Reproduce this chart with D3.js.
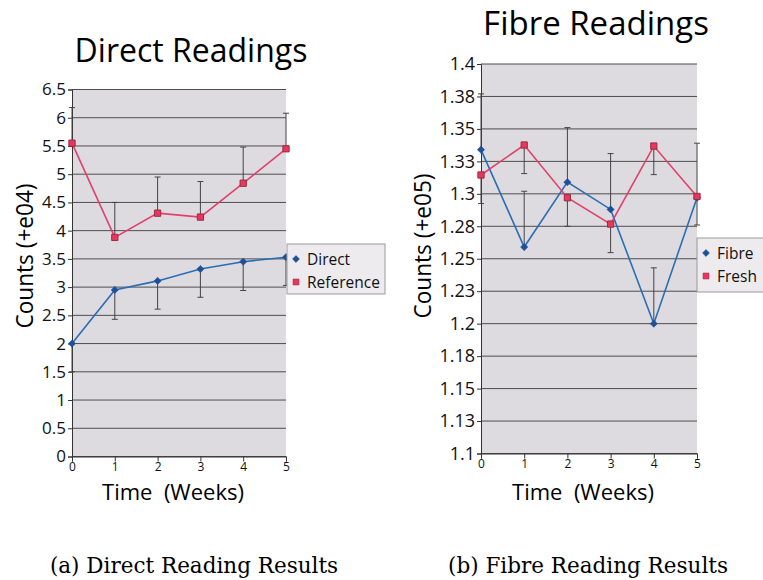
<!DOCTYPE html>
<html><head><meta charset="utf-8">
<script src="https://cdn.jsdelivr.net/npm/d3@7"></script>
<style>body{margin:0;background:#fff}svg{display:block}</style>
</head><body>
<svg id="c" width="763" height="580"></svg>
<script>
// ---- data ----
const weeks = [0, 1, 2, 3, 4, 5];
const directValues = [2.0, 2.95, 3.11, 3.32, 3.45, 3.53];
const directErrLow = [0.5, 0.52, 0.5, 0.5, 0.51, 0.5];
const directErrHigh = [0, 0, 0, 0, 0, 0];
const referenceValues = [5.55, 3.88, 4.31, 4.24, 4.84, 5.45];
const referenceErrLow = [0, 0, 0, 0, 0, 0];
const referenceErrHigh = [0.63, 0.62, 0.64, 0.63, 0.64, 0.63];
const fibreValues = [1.334, 1.259, 1.309, 1.288, 1.200, 1.297];
const fibreErrLow = [0, 0, 0, 0, 0, 0];
const fibreErrHigh = [0.043, 0.043, 0.042, 0.043, 0.043, 0.042];
const freshValues = [1.3145, 1.3376, 1.297, 1.2767, 1.3368, 1.298];
const freshErrLow = [0.022, 0.022, 0.022, 0.022, 0.022, 0.022];
const freshErrHigh = [0, 0, 0, 0, 0, 0];
const leftYTicks = [0, 0.5, 1, 1.5, 2, 2.5, 3, 3.5, 4, 4.5, 5, 5.5, 6, 6.5];
const rightYTicks = [1.1, 1.125, 1.15, 1.175, 1.2, 1.225, 1.25, 1.275, 1.3, 1.325, 1.35, 1.375, 1.4];
const rightYTickLabels = ["1.1", "1.13", "1.15", "1.18", "1.2", "1.23", "1.25", "1.28", "1.3", "1.33", "1.35", "1.38", "1.4"];
const xTickLabels = ["0", "1", "2", "3", "4", "5"];

const BLUE = "#2a6db5", BLUE_M = "#1f4f99", RED = "#e0416b", RED_F = "#e8365e", RED_S = "#9c2a45";
const FONT = "'Open Sans', 'DejaVu Sans', sans-serif";
const svg = d3.select("#c");

function chart(cfg) {
  const g = svg.append("g");
  const x = d3.scaleLinear().domain([0, 5]).range([cfg.x0, cfg.x1]);
  const y = d3.scaleLinear().domain(cfg.yDomain).range([cfg.y0, cfg.y1]);
  g.append("rect").attr("x", cfg.x0).attr("y", cfg.y1).attr("width", cfg.x1 - cfg.x0).attr("height", cfg.y0 - cfg.y1).attr("fill", "#dddbe0");
  // grid
  g.selectAll("line.grid").data(cfg.yTicks).enter().append("line")
    .attr("x1", cfg.x0).attr("x2", cfg.x1).attr("y1", d => y(d)).attr("y2", d => y(d))
    .attr("stroke", "#4d4d4d").attr("stroke-width", 1);
  // y axis
  const ya = d3.axisLeft(y).tickValues(cfg.yTicks).tickSize(4).tickPadding(2)
    .tickFormat((d, i) => cfg.yLabels[i]);
  const yg = g.append("g").attr("transform", `translate(${cfg.x0},0)`).call(ya);
  yg.select(".domain").attr("stroke", "#333");
  yg.selectAll(".tick line").attr("stroke", "#333");
  yg.selectAll("text").attr("font-family", FONT).attr("font-size", cfg.yFont).attr("fill", "#111");
  // x axis
  const xa = d3.axisBottom(x).tickValues(weeks).tickSize(5).tickPadding(1).tickFormat((d, i) => xTickLabels[i]);
  const xg = g.append("g").attr("transform", `translate(0,${cfg.y0})`).call(xa);
  xg.select(".domain").attr("stroke", "#333");
  xg.selectAll(".tick line").attr("stroke", "#333");
  xg.selectAll("text").attr("font-family", FONT).attr("font-size", 12).attr("fill", "#111");
  // error bars
  cfg.series.forEach(s => {
    weeks.forEach((w, i) => {
      const lo = s.values[i] - s.errLow[i], hi = s.values[i] + s.errHigh[i];
      const eg = g.append("g").attr("stroke", "#444").attr("stroke-width", 1);
      eg.append("line").attr("x1", x(w)).attr("x2", x(w)).attr("y1", y(lo)).attr("y2", y(hi));
      if (s.errLow[i] > 0) eg.append("line").attr("x1", x(w) - 3).attr("x2", x(w) + 3).attr("y1", y(lo)).attr("y2", y(lo));
      if (s.errHigh[i] > 0) eg.append("line").attr("x1", x(w) - 3).attr("x2", x(w) + 3).attr("y1", y(hi)).attr("y2", y(hi));
    });
  });
  // lines + markers
  cfg.series.forEach(s => {
    const line = d3.line().x((d, i) => x(weeks[i])).y(d => y(d));
    g.append("path").datum(s.values).attr("d", line).attr("fill", "none")
      .attr("stroke", s.color).attr("stroke-width", 1.6);
  });
  cfg.series.forEach(s => {
    const sym = d3.symbol().type(s.shape === "diamond" ? d3.symbolDiamond2 : d3.symbolSquare2).size(s.shape === "diamond" ? 34 : 50);
    g.selectAll(null).data(s.values).enter().append("path")
      .attr("d", sym).attr("transform", (d, i) => `translate(${x(weeks[i])},${y(d)})`)
      .attr("fill", s.shape === "diamond" ? BLUE_M : RED_F)
      .attr("stroke", s.shape === "diamond" ? BLUE_M : RED_S).attr("stroke-width", s.shape === "diamond" ? 0.5 : 1);
  });
  // legend
  const L = cfg.legend;
  const lg = g.append("g");
  lg.append("rect").attr("x", L.x).attr("y", L.y).attr("width", L.w).attr("height", L.h)
    .attr("fill", "#edebee").attr("stroke", "#9a9a9a").attr("stroke-width", 1);
  cfg.series.forEach((s, i) => {
    const cy = L.y + 15 + i * 23;
    const sym = d3.symbol().type(s.shape === "diamond" ? d3.symbolDiamond2 : d3.symbolSquare2).size(s.shape === "diamond" ? 30 : 44);
    lg.append("path").attr("d", sym).attr("transform", `translate(${L.x + 9},${cy})`)
      .attr("fill", s.shape === "diamond" ? BLUE_M : RED_F).attr("stroke", s.shape === "diamond" ? BLUE_M : RED_S).attr("stroke-width", 0.6);
    lg.append("text").attr("x", L.x + 20).attr("y", cy + 5.5).text(s.name)
      .attr("font-family", FONT).attr("font-size", 15.5).attr("fill", "#111");
  });
  // titles
  g.append("text").attr("x", cfg.titleX).attr("y", cfg.titleY).attr("text-anchor", "middle")
    .attr("font-family", FONT).attr("font-size", cfg.titleFont).attr("fill", "#000").text(cfg.title);
  g.append("text").attr("transform", `translate(${cfg.ylabX},${cfg.ylabY}) rotate(-90)`).attr("text-anchor", "middle")
    .attr("font-family", FONT).attr("font-size", 24).attr("textLength", 145).attr("lengthAdjust", "spacingAndGlyphs")
    .attr("fill", "#000").text(cfg.ylab);
  g.append("text").attr("x", cfg.xlabX).attr("y", 500).attr("text-anchor", "middle")
    .style("white-space", "pre")
    .attr("font-family", FONT).attr("font-size", 22).attr("fill", "#000").text("Time  (Weeks)");
  g.append("text").attr("x", cfg.capX).attr("y", 573).attr("text-anchor", "middle")
    .attr("font-family", "'DejaVu Serif', 'Liberation Serif', serif").attr("font-size", 21.5).attr("fill", "#000").text(cfg.caption);
}

chart({
  x0: 72, x1: 286, y0: 456.5, y1: 89.5, yDomain: [0, 6.5], yTicks: leftYTicks,
  yLabels: leftYTicks.map(d => String(d)), yFont: 17,
  series: [
    {name: "Direct", values: directValues, errLow: directErrLow, errHigh: directErrHigh, color: BLUE, shape: "diamond"},
    {name: "Reference", values: referenceValues, errLow: referenceErrLow, errHigh: referenceErrHigh, color: RED, shape: "square"}
  ],
  legend: {x: 287, y: 244, w: 98, h: 50},
  title: "Direct Readings", titleX: 191, titleY: 62, titleFont: 32,
  ylab: "Counts (+e04)", ylabX: 33, ylabY: 256, xlabX: 173,
  caption: "(a) Direct Reading Results", capX: 194
});
chart({
  x0: 481, x1: 697, y0: 453.5, y1: 64, yDomain: [1.1, 1.4], yTicks: rightYTicks,
  yLabels: rightYTickLabels, yFont: 18,
  series: [
    {name: "Fibre", values: fibreValues, errLow: fibreErrLow, errHigh: fibreErrHigh, color: BLUE, shape: "diamond"},
    {name: "Fresh", values: freshValues, errLow: freshErrLow, errHigh: freshErrHigh, color: RED, shape: "square"}
  ],
  legend: {x: 697, y: 238, w: 75, h: 54},
  title: "Fibre Readings", titleX: 596, titleY: 35, titleFont: 33,
  ylab: "Counts (+e05)", ylabX: 431, ylabY: 246, xlabX: 583,
  caption: "(b) Fibre Reading Results", capX: 588
});
</script>
</body></html>
